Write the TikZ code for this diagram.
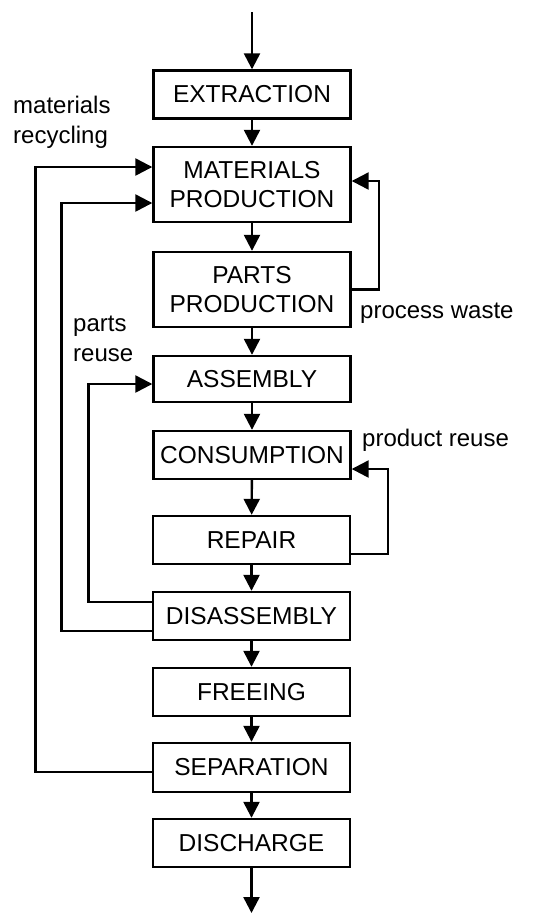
\documentclass[tikz,border=0pt]{standalone}
\usepackage{fontspec}
\setmainfont{Liberation Sans}
\usetikzlibrary{arrows.meta}

\tikzset{
  stage/.style={draw, line width=2.4pt, minimum width=197pt, minimum height=48pt,
    inner sep=0pt, align=center, font=\fontsize{24.5}{29}\selectfont},
  tall/.style={minimum height=75pt},
  flow/.style={line width=2.4pt, -{Triangle[length=16pt,width=16pt]}},
  loop/.style={line width=2.4pt, -{Triangle[length=17pt,width=17pt]}},
  tag/.style={inner sep=0pt, align=left, font=\fontsize{24}{30}\selectfont}
}

\begin{document}
\begin{tikzpicture}[x=1pt, y=-1pt]
  \useasboundingbox (0,0) rectangle (554,914);

  % process chain
  \node[stage] (ext) at (252,94.5) {EXTRACTION};
  \node[stage,tall] (mp) at (252,184.5) {MATERIALS\\PRODUCTION};
  \node[stage,tall] (pp) at (252,289.5) {PARTS\\PRODUCTION};
  \node[stage,minimum height=46pt] (asm) at (252,379) {ASSEMBLY};
  \node[stage] (con) at (252,455) {CONSUMPTION};
  \node[stage] (rep) at (251.5,540) {REPAIR};
  \node[stage] (dis) at (251.5,616) {DISASSEMBLY};
  \node[stage] (fre) at (251.5,692) {FREEING};
  \node[stage,minimum height=49pt] (sep) at (251.5,767.5) {SEPARATION};
  \node[stage] (dch) at (251.5,843) {DISCHARGE};

  \coordinate (in) at (252,12);
  \coordinate (out) at (251.5,913);

  \draw[flow] (in) -- (ext);
  \draw[flow] (ext) -- (mp);
  \draw[flow] (mp) -- (pp);
  \draw[flow] (pp) -- (asm);
  \draw[flow] (asm) -- (con);
  \draw[flow] (con) -- (rep);
  \draw[flow] (rep) -- (dis);
  \draw[flow] (dis) -- (fre);
  \draw[flow] (fre) -- (sep);
  \draw[flow] (sep) -- (dch);
  \draw[flow] (dch) -- (out);

  % feedback loops
  \draw[loop] ([yshift=-4.5pt]sep.west) -- ++(-116.5pt,0) |- ([yshift=17.5pt]mp.west);
  \draw[loop] ([yshift=-15pt]dis.west) -- ++(-90.5pt,0) |- ([yshift=-18.5pt]mp.west);
  \draw[loop] ([yshift=14pt]dis.west) -- ++(-63.5pt,0) |- ([yshift=-5pt]asm.west);
  \draw[loop] (pp.east) -- ++(27.5pt,0) |- ([yshift=3.5pt]mp.east);
  \draw[loop] ([yshift=-14pt]rep.east) -- ++(37pt,0) |- ([yshift=-14pt]con.east);

  % loop labels (base = baseline of the last line)
  \node[tag, anchor=base west] (lmr) at (13,143) {materials\\recycling};
  \node[tag, anchor=base west] (lpr) at (73,361.5) {parts\\reuse};
  \node[tag, anchor=base west] (lpw) at (360,318) {process waste};
  \node[tag, anchor=base west] (lpd) at (362,446.5) {product reuse};
\end{tikzpicture}
\end{document}
